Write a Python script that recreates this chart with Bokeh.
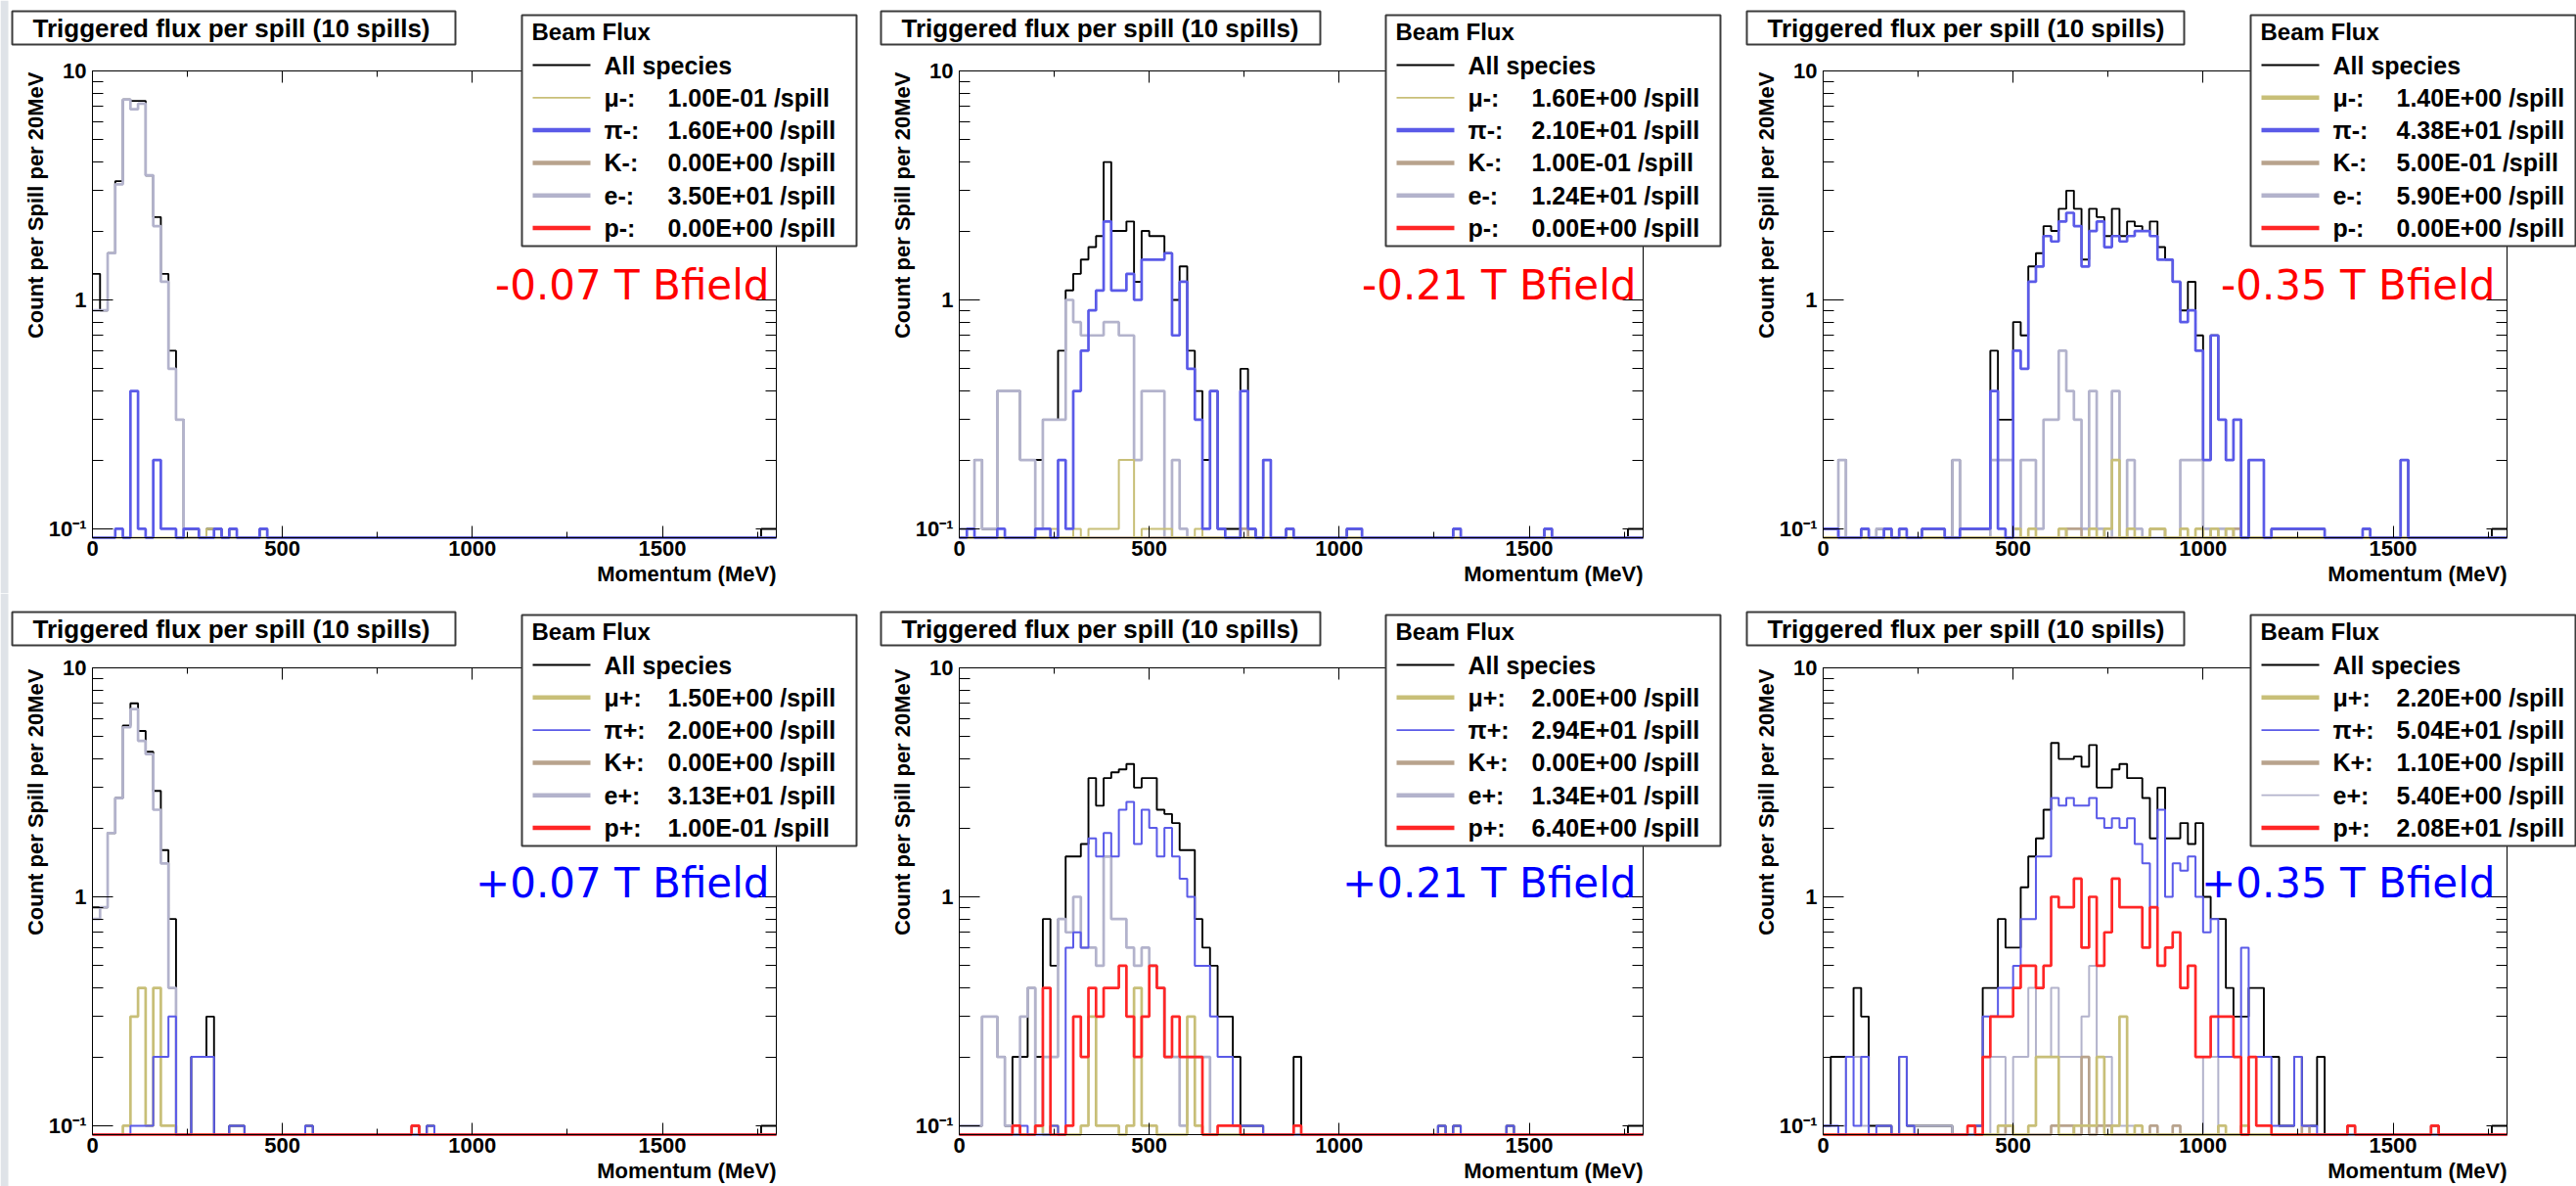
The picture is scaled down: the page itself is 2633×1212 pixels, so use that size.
import numpy as np
from bokeh.plotting import figure
from bokeh.layouts import column, row
from bokeh.models import Range1d, LogAxis, LinearAxis, FixedTicker, Label, BoxAnnotation
from bokeh.embed import file_html
from bokeh.resources import INLINE

# ---------------------------------------------------------------- data
BIN_WIDTH = 20          # MeV per bin
N_BINS = 90             # 0 .. 1800 MeV
X_MAX = 1800
Y_MIN = 0.0915
Y_MAX = 10.0

X_TICKS = [0, 500, 1000, 1500]
X_MINOR = [250, 750, 1250, 1750]
Y_TICKS = [0.1, 1, 10]
Y_TICK_LABELS = ["10\u207b\u00b9", "1", "10"]
Y_MINOR = [0.2, 0.3, 0.4, 0.5, 0.6, 0.7, 0.8, 0.9, 2, 3, 4, 5, 6, 7, 8, 9]

TITLE = "Triggered flux per spill (10 spills)"
X_LABEL = "Momentum (MeV)"
Y_LABEL = "Count per Spill per 20MeV"
LEGEND_HEADER = "Beam Flux"
ALL_LABEL = "All species"

FIELDS = ["-0.07 T Bfield", "-0.21 T Bfield", "-0.35 T Bfield",
          "+0.07 T Bfield", "+0.21 T Bfield", "+0.35 T Bfield"]
SPECIES_NEG = ["\u03bc-:", "\u03c0-:", "K-:", "e-:", "p-:"]
SPECIES_POS = ["\u03bc+:", "\u03c0+:", "K+:", "e+:", "p+:"]

FLUX_1 = ["1.00E-01", "1.60E+00", "0.00E+00", "3.50E+01", "0.00E+00"]
FLUX_2 = ["1.60E+00", "2.10E+01", "1.00E-01", "1.24E+01", "0.00E+00"]
FLUX_3 = ["1.40E+00", "4.38E+01", "5.00E-01", "5.90E+00", "0.00E+00"]
FLUX_4 = ["1.50E+00", "2.00E+00", "0.00E+00", "3.13E+01", "1.00E-01"]
FLUX_5 = ["2.00E+00", "2.94E+01", "0.00E+00", "1.34E+01", "6.40E+00"]
FLUX_6 = ["2.20E+00", "5.04E+01", "1.10E+00", "5.40E+00", "2.08E+01"]

# histogram contents: list of (first bin lower edge in MeV, [consecutive bin values])
# ---- -0.07 T
P1_ALL = [(0, [1.3, 0.9, 1.6, 3.3, 7.5, 7.4, 7.4, 3.5, 2.3, 1.3, 0.6, 0.3, 0.1, 0.1]),
          (300, [0.1, 0.1]), (360, [0.1]), (440, [0.1]), (1760, [0.1, 0.1])]
P1_MU = [(300, [0.1])]
P1_PI = [(60, [0.1]), (100, [0.4, 0.1]), (160, [0.2, 0.1, 0.1]), (240, [0.1, 0.1]),
         (320, [0.1]), (360, [0.1]), (440, [0.1])]
P1_K = []
P1_E = [(0, [0.9, 0.9, 1.6, 3.2, 7.5, 6.8, 7.2, 3.5, 2.1, 1.2, 0.5, 0.3])]
P1_P = []

# ---- -0.21 T
P2_ALL = [(0, [0.1, 0.1, 0.2, 0.1, 0.1, 0.4, 0.4, 0.4, 0.2, 0.2,
               0.2, 0.3, 0.3, 0.6, 1.1, 1.3, 1.5, 1.7, 1.9, 4.0,
               2.0, 2.0, 2.2, 1.2, 2.0, 1.9, 1.9, 1.6, 1.0, 1.4,
               0.6, 0.4, 0.2, 0.4, 0.1, 0.1, 0.1, 0.5, 0.1, 0.0,
               0.2, 0.0, 0.0, 0.1]),
          (1020, [0.1, 0.1]), (1300, [0.1]), (1540, [0.1]), (1760, [0.1, 0.1])]
P2_MU = [(240, [0.1]), (300, [0.1, 0.0, 0.1, 0.1, 0.1, 0.1, 0.2, 0.2, 0.0, 0.1, 0.1, 0.1, 0.1]),
         (620, [0.1])]
P2_PI = [(0, [0.0, 0.1, 0.0, 0.0, 0.0, 0.1, 0.0, 0.0, 0.0, 0.0,
              0.1, 0.1, 0.0, 0.2, 0.1, 0.4, 0.6, 0.9, 1.1, 2.2,
              1.1, 1.1, 1.3, 1.0, 1.5, 1.5, 1.5, 1.6, 0.7, 1.2,
              0.5, 0.3, 0.1, 0.4, 0.1, 0.0, 0.0, 0.4, 0.1, 0.0,
              0.2, 0.0, 0.0, 0.1]),
         (1020, [0.1, 0.1]), (1300, [0.1]), (1540, [0.1])]
P2_K = [(740, [0.1])]
P2_E = [(0, [0.1, 0.1, 0.2, 0.1, 0.1, 0.4, 0.4, 0.4, 0.2, 0.2,
             0.1, 0.3, 0.3, 0.3, 1.0, 0.8, 0.7, 0.7, 0.7, 0.8,
             0.8, 0.7, 0.7, 0.2, 0.4, 0.4, 0.4, 0.0, 0.2, 0.1])]
P2_P = []

# ---- -0.35 T
P3_ALL = [(0, [0.1, 0.1, 0.2, 0.0, 0.0, 0.1, 0.0, 0.1, 0.1, 0.0,
               0.1, 0.0, 0.0, 0.1, 0.1, 0.1, 0.0, 0.2, 0.1, 0.1,
               0.1, 0.1, 0.6, 0.3, 0.3, 0.8, 0.7, 1.4, 1.6, 2.1,
               2.0, 2.5, 3.0, 2.5, 1.5, 2.5, 2.3, 1.9, 2.5, 1.9,
               2.2, 2.1, 2.0, 2.2, 1.7, 1.5, 1.2, 0.9, 1.2, 0.7,
               0.2, 0.7, 0.3, 0.2, 0.3, 0.0, 0.2, 0.2, 0.0, 0.1,
               0.1, 0.1, 0.1, 0.1, 0.1, 0.1]),
          (1420, [0.1]), (1520, [0.2]), (1760, [0.1, 0.1])]
P3_MU = [(500, [0.1, 0.0, 0.1, 0.0, 0.0, 0.0, 0.1]),
         (700, [0.1, 0.0, 0.1, 0.2, 0.0, 0.1, 0.0, 0.0, 0.1, 0.1, 0.0, 0.0, 0.1, 0.0, 0.1, 0.0, 0.1]),
         (1060, [0.1])]
P3_PI = [(0, [0.1, 0.1, 0.0, 0.0, 0.0, 0.1, 0.0, 0.0, 0.1, 0.0,
              0.1, 0.0, 0.0, 0.1, 0.1, 0.1, 0.0, 0.0, 0.1, 0.1,
              0.1, 0.1, 0.4, 0.1, 0.0, 0.6, 0.5, 1.2, 1.4, 1.9,
              1.8, 2.2, 2.4, 2.1, 1.4, 2.0, 2.2, 1.7, 1.9, 1.8,
              1.9, 2.0, 2.0, 1.9, 1.5, 1.5, 1.2, 0.8, 0.9, 0.6,
              0.2, 0.7, 0.3, 0.2, 0.3, 0.0, 0.2, 0.2, 0.0, 0.1,
              0.1, 0.1, 0.1, 0.1, 0.1, 0.1]),
         (1420, [0.1]), (1520, [0.2])]
P3_K = [(640, [0.1, 0.1]), (860, [0.1, 0.1]), (1080, [0.1])]
P3_E = [(40, [0.2]), (140, [0.1]), (340, [0.2]),
        (440, [0.2, 0.2, 0.2, 0.1, 0.2, 0.2, 0.1, 0.3, 0.3, 0.6, 0.4, 0.3, 0.1, 0.4, 0.1, 0.0,
               0.4, 0.0, 0.2, 0.1, 0.0, 0.0, 0.0, 0.0, 0.0, 0.2, 0.2, 0.2, 0.1, 0.0, 0.1])]
P3_P = []

# ---- +0.07 T
P4_ALL = [(0, [0.9, 0.9, 1.9, 2.7, 5.6, 7.0, 5.3, 4.3, 2.9, 1.6, 0.8, 0.0, 0.0, 0.2, 0.2,
               0.3, 0.0, 0.0, 0.1, 0.1]),
          (560, [0.1]), (840, [0.1]), (880, [0.1]), (1760, [0.1, 0.1])]
P4_MU = [(80, [0.1, 0.3, 0.4, 0.1, 0.4, 0.1, 0.1])]
P4_PI = [(100, [0.1, 0.1, 0.1, 0.2, 0.2, 0.3]), (260, [0.2, 0.2, 0.2]), (360, [0.1, 0.1]),
         (560, [0.1]), (880, [0.1])]
P4_K = []
P4_E = [(0, [0.8, 0.9, 1.9, 2.7, 5.5, 6.6, 4.8, 4.2, 2.4, 1.4, 0.4])]
P4_P = [(840, [0.1])]

# ---- +0.21 T
P5_ALL = [(0, [0.1, 0.1, 0.1, 0.3, 0.3, 0.2, 0.1, 0.2, 0.2, 0.4,
               0.2, 0.8, 0.5, 0.8, 1.5, 1.5, 1.7, 3.3, 2.5, 3.3,
               3.5, 3.6, 3.8, 3.0, 3.3, 3.3, 2.4, 2.3, 2.1, 1.6,
               1.6, 0.8, 0.6, 0.5, 0.3, 0.3, 0.2, 0.1, 0.1, 0.1,
               0.0, 0.0, 0.0, 0.0, 0.2]),
          (1260, [0.1]), (1300, [0.1]), (1440, [0.1]), (1760, [0.1, 0.1])]
P5_MU = [(200, [0.1, 0.0, 0.1, 0.0, 0.0, 0.0, 0.1, 0.3, 0.1, 0.1, 0.1, 0.0, 0.1, 0.4, 0.1, 0.1]),
         (600, [0.3, 0.1])]
P5_PI = [(160, [0.1]),
         (240, [0.1, 0.0, 0.6, 0.7, 0.6, 1.8, 1.5, 1.9, 1.5, 2.4, 2.6, 1.7, 2.4, 2.0, 1.5, 2.0,
                1.5, 1.2, 1.0, 0.5, 0.5, 0.3, 0.2, 0.2, 0.1, 0.1, 0.1, 0.1]),
         (1260, [0.1]), (1300, [0.1]), (1440, [0.1])]
P5_K = []
P5_E = [(0, [0.1, 0.1, 0.1, 0.3, 0.3, 0.2, 0.1, 0.0, 0.3, 0.4, 0.1, 0.2, 0.2, 0.8, 0.7, 1.0,
             0.6, 0.6, 0.5, 1.5, 0.8, 0.8, 0.6, 0.5, 0.6, 0.5, 0.4, 0.2, 0.2, 0.1, 0.2, 0.2, 0.2])]
P5_P = [(140, [0.1, 0.0, 0.0, 0.1, 0.4, 0.0, 0.0, 0.1, 0.3, 0.2, 0.4, 0.3, 0.4, 0.4, 0.5,
               0.3, 0.2, 0.3, 0.5, 0.4, 0.2, 0.3, 0.2, 0.2, 0.2, 0.0, 0.0, 0.1, 0.1, 0.1]),
        (880, [0.1])]

# ---- +0.35 T
P6_ALL = [(0, [0.1, 0.2, 0.2, 0.2, 0.4, 0.3, 0.1, 0.1, 0.1, 0.0,
               0.2, 0.1, 0.1, 0.1, 0.1, 0.1, 0.1, 0.0, 0.0, 0.1,
               0.1, 0.4, 0.4, 0.8, 0.6, 0.6, 1.1, 1.5, 1.8, 2.4,
               4.7, 4.0, 4.0, 4.1, 3.7, 4.6, 3.0, 3.0, 3.6, 3.8,
               3.3, 3.3, 2.7, 1.8, 3.0, 1.8, 1.8, 2.1, 1.7, 2.1,
               1.0, 0.8, 0.8, 0.4, 0.3, 0.3, 0.4, 0.4, 0.2, 0.2,
               0.1, 0.1, 0.2, 0.1, 0.1, 0.2]),
          (1380, [0.1]), (1600, [0.1]), (1760, [0.1, 0.1])]
P6_MU = [(460, [0.1, 0.1, 0.0, 0.0, 0.1, 0.2, 0.2, 0.2, 0.0, 0.0, 0.1, 0.1, 0.1, 0.2, 0.0, 0.1,
                0.3, 0.0, 0.1]),
         (1040, [0.1, 0.0, 0.0, 0.1])]
P6_PI = [(0, [0.1, 0.1, 0.0, 0.2, 0.1, 0.2, 0.0, 0.1, 0.1, 0.0, 0.2, 0.1]),
         (400, [0.1, 0.3, 0.3, 0.4, 0.4, 0.5, 0.8, 0.8, 1.5, 1.5,
                2.7, 2.5, 2.7, 2.5, 2.5, 2.7, 2.2, 2.0, 2.2, 2.0,
                2.2, 1.7, 1.4, 0.9, 2.4, 1.0, 1.4, 1.3, 1.5, 1.0,
                0.7, 0.8, 0.2, 0.2, 0.2, 0.6, 0.2, 0.2, 0.2, 0.1,
                0.1, 0.1, 0.2, 0.1, 0.1])]
P6_K = [(460, [0.0, 0.1]), (600, [0.1, 0.1, 0.1, 0.0, 0.2, 0.0, 0.1, 0.1]), (860, [0.1]),
        (920, [0.1]), (1260, [0.1])]
P6_E = [(0, [0.1, 0.1, 0.1, 0.2, 0.2, 0.1]), (240, [0.1, 0.1, 0.1, 0.1, 0.1]),
        (440, [0.2, 0.2, 0.0, 0.2, 0.2, 0.4, 0.2, 0.2, 0.4, 0.2, 0.2, 0.2, 0.3, 0.5, 0.2, 0.2,
               0.1, 0.1, 0.1]),
        (1000, [0.2, 0.2])]
P6_P = [(380, [0.1, 0.0, 0.2, 0.3, 0.3, 0.3, 0.4, 0.5, 0.5, 0.4,
               0.5, 1.0, 0.9, 0.9, 1.2, 0.6, 1.0, 0.5, 0.7, 1.2,
               0.9, 0.9, 0.9, 0.6, 0.9, 0.5, 0.6, 0.7, 0.4, 0.5,
               0.2, 0.2, 0.3, 0.3, 0.3, 0.2, 0.0, 0.2, 0.1, 0.1]),
        (1380, [0.1]), (1600, [0.1])]

# ---------------------------------------------------------------- style
FONT = "Liberation Sans"
COLORS = {"all": "#000000", "mu": "#c8bf78", "pi": "#5a5ae8", "K": "#b8a38d",
          "e": "#b3b3cc", "p": "#ff2626"}
ORDER = ["all", "e", "K", "mu", "pi", "p"]
LEGEND_ORDER = ["all", "mu", "pi", "K", "e", "p"]
THICK, THIN = 4.5, 1.8
LEG_WIDTHS = [
    {"all": THIN, "mu": THIN, "pi": THICK, "K": THICK, "e": THICK, "p": THICK},
    {"all": THIN, "mu": THIN, "pi": THICK, "K": THICK, "e": THICK, "p": THICK},
    {"all": THIN, "mu": THICK, "pi": THICK, "K": THICK, "e": THICK, "p": THICK},
    {"all": THIN, "mu": THICK, "pi": THIN, "K": THICK, "e": THICK, "p": THICK},
    {"all": THIN, "mu": THICK, "pi": THIN, "K": THICK, "e": THICK, "p": THICK},
    {"all": THIN, "mu": THICK, "pi": THIN, "K": THICK, "e": THIN, "p": THICK},
]

FRAME_W, FRAME_H = 699, 477          # histogram frame in pixels
COL_W = [878, 882, 873]
ROW_H = [606, 606]
FRAME_LEFT = [94, 102, 103]
FRAME_TOP = [72, 76]
TITLE_BOX_X = [(12, 465), (22, 471), (25, 472)]
TITLE_BOX_Y = [(11, 45), (19, 53)]
LEG_LEFT = [533, 538, 540]
LEG_TOP = [15, 22]


def expand(segments):
    v = np.zeros(N_BINS)
    for start, vals in segments:
        i0 = start // BIN_WIDTH
        v[i0:i0 + len(vals)] = vals
    return v


def style_axis(ax, big, small, show_labels):
    ax.major_tick_in = big
    ax.major_tick_out = 0
    ax.minor_tick_in = small
    ax.minor_tick_out = 0
    ax.axis_line_color = "black"
    ax.axis_line_width = 1
    ax.major_tick_line_color = "black"
    ax.minor_tick_line_color = "black"
    ax.major_label_text_font = FONT
    ax.major_label_text_font_style = "bold"
    ax.major_label_text_font_size = "22px"
    ax.major_label_text_color = "black" if show_labels else None


def make_panel(idx, series, flux):
    col, rw = idx % 3, idx // 3
    W, H = COL_W[col], ROW_H[rw]
    fl, ft = FRAME_LEFT[col], FRAME_TOP[rw]

    # the canvas covers the whole panel; the histogram frame is drawn by four axes
    sx = X_MAX / FRAME_W
    ly0, ly1 = np.log10(Y_MIN), np.log10(Y_MAX)
    k = (ly1 - ly0) / FRAME_H
    x_lo, x_hi = -fl * sx, X_MAX + (W - fl - FRAME_W) * sx
    y_lo = 10 ** (ly0 - (H - ft - FRAME_H) * k)
    y_hi = 10 ** (ly1 + ft * k)

    p = figure(width=W, height=H, x_range=Range1d(x_lo, x_hi), y_range=Range1d(y_lo, y_hi),
               y_axis_type="log", x_axis_location=None, y_axis_location=None,
               output_backend="svg", toolbar_location=None,
               min_border_left=0, min_border_right=0, min_border_top=0, min_border_bottom=0)
    p.xgrid.visible = False
    p.ygrid.visible = False
    p.outline_line_color = None
    p.background_fill_color = "white"
    p.border_fill_color = "white"

    xt = FixedTicker(ticks=X_TICKS, minor_ticks=X_MINOR)
    yt = FixedTicker(ticks=Y_TICKS, minor_ticks=Y_MINOR)
    bottom = LinearAxis(ticker=xt, fixed_location=Y_MIN, bounds=(0, X_MAX), major_label_standoff=3)
    top = LinearAxis(ticker=xt, fixed_location=Y_MAX, bounds=(0, X_MAX))
    left = LogAxis(ticker=yt, fixed_location=0, bounds=(Y_MIN, Y_MAX), major_label_standoff=6,
                   major_label_overrides={t: s for t, s in zip(Y_TICKS, Y_TICK_LABELS)})
    right = LogAxis(ticker=yt, fixed_location=X_MAX, bounds=(Y_MIN, Y_MAX))
    style_axis(bottom, 12, 6, True)
    style_axis(top, 12, 6, False)
    style_axis(left, 21, 11, True)
    style_axis(right, 21, 11, False)
    p.add_layout(bottom, "below")
    p.add_layout(top, "above")
    p.add_layout(left, "left")
    p.add_layout(right, "right")

    widths = LEG_WIDTHS[idx]
    edges = np.arange(N_BINS + 1) * BIN_WIDTH
    for key in ORDER:
        v = expand(series[key])
        if v.sum() <= 0:
            continue
        y = np.where(v > 0, v, Y_MIN)
        lw = 1.9 if key == "all" else (2.7 if widths[key] == THICK else 2.0)
        p.step(edges, np.append(y, y[-1]), mode="after", line_color=COLORS[key], line_width=lw)

    def dx(px):
        return float((px - fl) * sx)

    def dy(py):
        return float(10 ** (ly0 + (ft + FRAME_H - py) * k))

    def text(px, py, s, size, align="left", color="black", font=FONT, style="bold", angle=0.0):
        p.add_layout(Label(x=dx(px), y=dy(py), text=s, text_font=font, text_font_style=style,
                           text_font_size=size, text_color=color, text_align=align,
                           text_baseline="middle", angle=float(angle)))

    def box(x0, y0, x1, y1, fill, line="#3c3c3c", lw=0.0):
        p.add_layout(BoxAnnotation(left=dx(x0), right=dx(x1), top=dy(y0), bottom=dy(y1),
                                   fill_color=fill, fill_alpha=1.0,
                                   line_color=line, line_width=lw,
                                   line_alpha=1.0 if lw > 0 else 0.0))

    # axis titles (ROOT style: right / top aligned)
    text(fl + FRAME_W, ft + FRAME_H + 37, X_LABEL, "22px", align="right")
    text(fl - 58, ft + 1, Y_LABEL, "22px", align="right", angle=np.pi / 2)

    # title box
    tx0, tx1 = TITLE_BOX_X[col]
    ty0, ty1 = TITLE_BOX_Y[rw]
    box(tx0, ty0, tx1, ty1, "white", "#3c3c3c", 2.0)
    text(tx0 + 21, (ty0 + ty1) / 2, TITLE, "26px")

    # field label
    text(fl + FRAME_W - (12 if col == 2 else 7), 291 if rw == 0 else 296, FIELDS[idx], "42px",
         align="right", color="#ff0000" if rw == 0 else "#0000ff", font="DejaVu Sans",
         style="normal")

    # legend
    bl, bt = LEG_LEFT[col], LEG_TOP[rw]
    br, bb = min(bl + 342, W - 1), bt + 236
    box(bl, bt, br, bb, "white", "#3c3c3c", 2.0)
    text(bl + 10, bt + 17, LEGEND_HEADER, "24px")
    names = [ALL_LABEL] + (SPECIES_NEG if rw == 0 else SPECIES_POS)
    vals = [""] + [f + " /spill" for f in flux]
    for i, key in enumerate(LEGEND_ORDER):
        yy = bt + 51 + 33.3 * i
        w = widths[key]
        box(bl + 11, yy - w / 2, bl + 70, yy + w / 2, COLORS[key])
        text(bl + 84, yy, names[i], "25px")
        if vals[i]:
            text(bl + 149, yy, vals[i], "25px")

    if col == 0:
        box(0, 0, 8, H, "#dfe3e8")
    return p


PANEL_SERIES = [
    {"all": P1_ALL, "mu": P1_MU, "pi": P1_PI, "K": P1_K, "e": P1_E, "p": P1_P},
    {"all": P2_ALL, "mu": P2_MU, "pi": P2_PI, "K": P2_K, "e": P2_E, "p": P2_P},
    {"all": P3_ALL, "mu": P3_MU, "pi": P3_PI, "K": P3_K, "e": P3_E, "p": P3_P},
    {"all": P4_ALL, "mu": P4_MU, "pi": P4_PI, "K": P4_K, "e": P4_E, "p": P4_P},
    {"all": P5_ALL, "mu": P5_MU, "pi": P5_PI, "K": P5_K, "e": P5_E, "p": P5_P},
    {"all": P6_ALL, "mu": P6_MU, "pi": P6_PI, "K": P6_K, "e": P6_E, "p": P6_P},
]
FLUXES = [FLUX_1, FLUX_2, FLUX_3, FLUX_4, FLUX_5, FLUX_6]

figs = [make_panel(i, PANEL_SERIES[i], FLUXES[i]) for i in range(6)]
layout = column(row(*figs[:3], spacing=0), row(*figs[3:], spacing=0), spacing=0)

open("out.html", "w").write(file_html(layout, INLINE, title="Beam flux"))
